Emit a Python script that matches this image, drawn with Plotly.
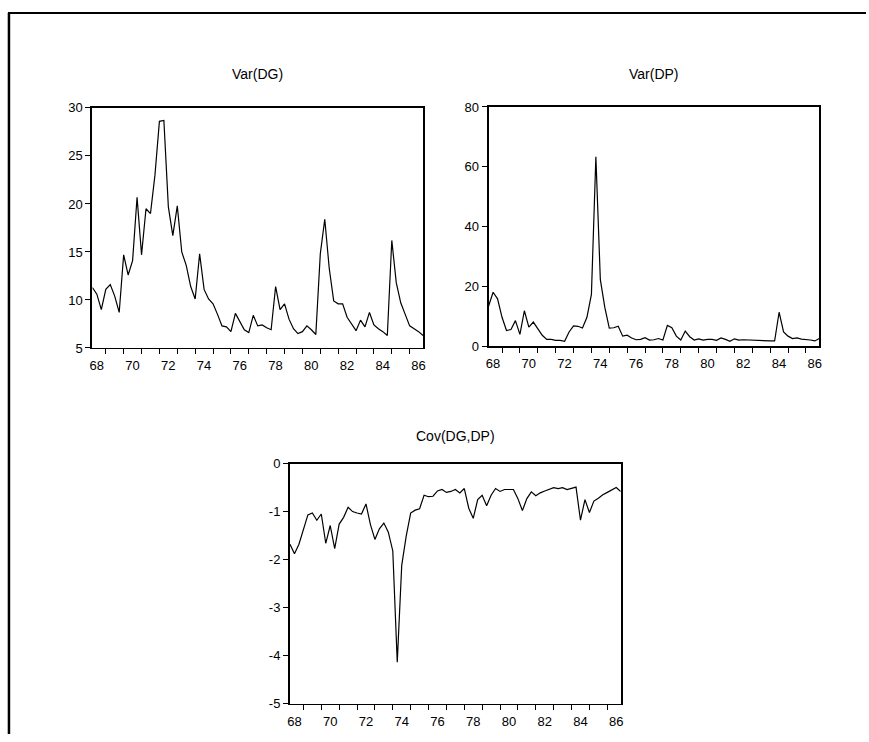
import plotly.graph_objects as go

# Quarterly sample 1968Q2 - 1986Q4 (75 observations)
start_year = 1968.25
n_obs = 75
t = [start_year + 0.25 * i for i in range(n_obs)]

var_dg = [11.3, 10.6, 9.0, 11.1, 11.6, 10.4, 8.7, 14.7, 12.6, 14.1,
          20.7, 14.7, 19.5, 19.0, 23.0, 28.6, 28.7, 19.7, 16.7, 19.8,
          15.0, 13.6, 11.4, 10.1, 14.8, 11.1, 10.1, 9.6, 8.5, 7.3,
          7.2, 6.7, 8.6, 7.7, 6.9, 6.6, 8.4, 7.3, 7.4, 7.1,
          6.9, 11.4, 9.0, 9.6, 8.0, 7.0, 6.5, 6.7, 7.3, 6.9,
          6.4, 14.8, 18.4, 13.3, 9.9, 9.6, 9.6, 8.2, 7.5, 6.8,
          7.9, 7.2, 8.7, 7.4, 7.0, 6.7, 6.3, 16.2, 11.8, 9.7,
          8.5, 7.3, 7.0, 6.7, 6.3]

var_dp = [13.4, 18.0, 15.8, 9.6, 5.2, 5.5, 8.5, 3.9, 11.8, 6.3,
          8.0, 5.8, 3.6, 2.2, 2.2, 1.9, 1.9, 1.6, 4.7, 6.7,
          6.6, 6.0, 9.6, 17.3, 63.3, 22.2, 12.9, 6.0, 6.1, 6.6,
          3.3, 3.6, 2.7, 2.1, 2.2, 2.8, 2.0, 2.1, 2.5, 2.0,
          6.9, 6.1, 3.3, 2.0, 5.0, 3.1, 2.0, 2.4, 2.0, 2.2,
          2.2, 1.9, 2.7, 2.2, 1.6, 2.4, 2.0, 2.1, 2.0, 2.0,
          1.9, 1.8, 1.7, 1.7, 1.7, 11.3, 4.7, 3.3, 2.5, 2.7,
          2.3, 2.2, 2.0, 1.7, 2.5]

cov_dg_dp = [-1.68, -1.88, -1.68, -1.37, -1.07, -1.03, -1.18, -1.05, -1.66, -1.29,
             -1.77, -1.26, -1.12, -0.91, -1.00, -1.03, -1.05, -0.84, -1.27, -1.58,
             -1.36, -1.24, -1.43, -1.82, -4.14, -2.12, -1.51, -1.03, -0.97, -0.94,
             -0.66, -0.69, -0.68, -0.57, -0.54, -0.60, -0.58, -0.54, -0.61, -0.52,
             -0.93, -1.14, -0.75, -0.66, -0.88, -0.66, -0.52, -0.58, -0.54, -0.54,
             -0.54, -0.73, -0.98, -0.73, -0.59, -0.67, -0.61, -0.57, -0.54, -0.50,
             -0.52, -0.50, -0.54, -0.52, -0.49, -1.18, -0.75, -1.02, -0.78, -0.72,
             -0.65, -0.60, -0.55, -0.50, -0.58]

titles = ["Var(DG)", "Var(DP)", "Cov(DG,DP)"]

label_years = list(range(1968, 1987, 2))
x_label_pos = [y + 0.5 for y in label_years]
x_label_text = [f"{y % 100:02d}" for y in label_years]
x_minor_ticks = list(range(1969, 1987))

y1_ticks = [5, 10, 15, 20, 25, 30]
y2_ticks = [0, 20, 40, 60, 80]
y3_ticks = [0, -1, -2, -3, -4, -5]

W, H = 869, 742
FONT = "Liberation Sans, Arial, sans-serif"


def px_dom_x(a, b):
    return [a / W, b / W]


def px_dom_y(top, bottom):
    return [1 - bottom / H, 1 - top / H]


panels = [
    # (x_left, x_right, y_top, y_bottom)
    (90, 423, 103, 348),
    (489, 822, 102, 346),
    (289, 622, 466, 711),
]

series = [var_dg, var_dp, cov_dg_dp]
y_ranges = [[5, 30], [0, 80], [-5, 0]]
y_tickvals = [y1_ticks, y2_ticks, y3_ticks]

fig = go.Figure()
layout = dict(
    width=W, height=H,
    margin=dict(l=0, r=0, t=0, b=0),
    paper_bgcolor="white", plot_bgcolor="white",
    showlegend=False,
    font=dict(family=FONT, size=13, color="black"),
)

for k in range(3):
    xl, xr, yt, yb = panels[k]
    sfx = "" if k == 0 else str(k + 1)
    fig.add_trace(go.Scatter(
        x=t, y=series[k], mode="lines",
        line=dict(color="black", width=1.2),
        xaxis="x" + sfx, yaxis="y" + sfx,
        hoverinfo="skip",
    ))
    layout["xaxis" + sfx] = dict(
        domain=px_dom_x(xl, xr), anchor="y" + sfx,
        range=[start_year, start_year + 0.25 * (n_obs - 1)],
        tickmode="array", tickvals=x_label_pos, ticktext=x_label_text,
        ticks="outside", ticklen=5, tickcolor="rgba(0,0,0,0)",
        minor=dict(tickmode="array", tickvals=x_minor_ticks, ticks="outside",
                   ticklen=5, tickcolor="black", tickwidth=1),
        showline=True, mirror=True, linecolor="black", linewidth=1.5,
        showgrid=False, zeroline=False,
        tickfont=dict(family=FONT, size=13, color="black"),
    )
    layout["yaxis" + sfx] = dict(
        domain=px_dom_y(yt, yb), anchor="x" + sfx,
        range=y_ranges[k],
        tickmode="array", tickvals=y_tickvals[k],
        ticktext=[str(v) for v in y_tickvals[k]],
        ticks="outside", ticklen=5, tickcolor="black", tickwidth=1,
        showline=True, mirror=True, linecolor="black", linewidth=2,
        showgrid=False, zeroline=False,
        tickfont=dict(family=FONT, size=13, color="black"),
    )

title_pos = [((90 + 423) / 2, 68), ((489 + 822) / 2, 68), ((289 + 622) / 2, 438)]
annotations = []
for (cx, cy), txt in zip(title_pos, titles):
    annotations.append(dict(
        x=cx / W, y=1 - cy / H, xref="paper", yref="paper",
        text=txt, showarrow=False, xanchor="center", yanchor="middle",
        font=dict(family=FONT, size=14, color="black"),
    ))
layout["annotations"] = annotations

layout["shapes"] = [
    dict(type="line", xref="paper", yref="paper",
         x0=5 / W, x1=1, y0=1 - 6 / H, y1=1 - 6 / H,
         line=dict(color="black", width=2)),
    dict(type="line", xref="paper", yref="paper",
         x0=6 / W, x1=6 / W, y0=1 - 6 / H, y1=0,
         line=dict(color="black", width=2.5)),
]

fig.update_layout(**layout)
fig.write_html(
    "out.html",
    config={"displayModeBar": False, "staticPlot": True},
    post_script="document.body.style.margin='0px';document.body.style.overflow='hidden';",
)
